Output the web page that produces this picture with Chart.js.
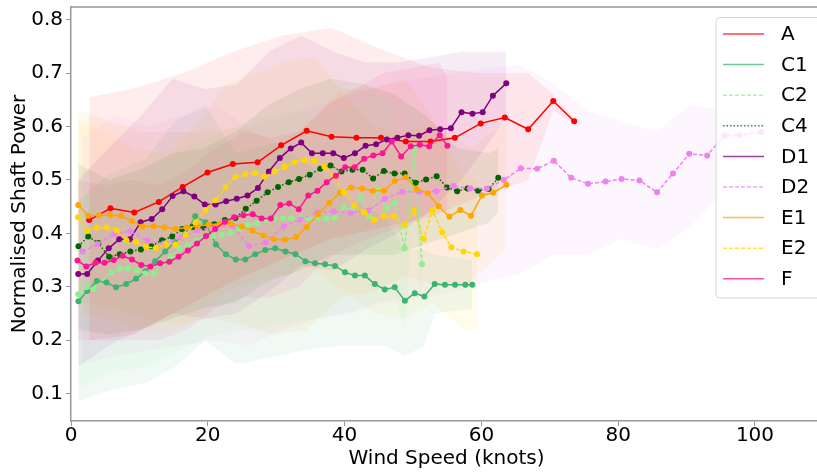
<!DOCTYPE html>
<html>
<head>
<meta charset="utf-8">
<script src="https://cdn.jsdelivr.net/npm/chart.js@4.4.1/dist/chart.umd.min.js"></script>
<style>
    html, body { margin: 0; padding: 0; background: #fff; overflow: hidden; }
    #wrap { width: 817px; height: 472px; overflow: hidden; }
</style>
</head>
<body>
<div id="wrap"><canvas id="powerChart" width="826" height="472"></canvas></div>
<script>
// Mean normalised shaft power per wind speed bin, one pair of arrays per vessel
const aWind = [2.66, 5.77, 9.26, 12.84, 16.33, 19.96, 23.66, 27.29, 30.72, 34.46, 38.09, 41.73, 45.32, 48.95, 52.59, 56.12, 59.90, 63.43, 66.84, 70.51, 73.57];
const aPower = [0.425, 0.447, 0.439, 0.459, 0.487, 0.514, 0.530, 0.533, 0.565, 0.592, 0.581, 0.579, 0.579, 0.572, 0.572, 0.579, 0.606, 0.617, 0.595, 0.648, 0.610];

const c1Wind = [1.09, 2.37, 3.78, 5.19, 6.59, 8.07, 9.50, 10.91, 12.31, 13.77, 15.22, 16.68, 18.17, 19.63, 21.18, 22.64, 24.09, 25.49, 26.94, 28.40, 29.85, 31.36, 32.82, 34.27, 35.69, 37.15, 38.60, 40.06, 41.51, 42.96, 44.42, 45.87, 47.33, 48.81, 50.26, 51.66, 53.17, 54.67, 56.15, 57.65, 58.67];
const c1Power = [0.273, 0.292, 0.311, 0.308, 0.299, 0.305, 0.315, 0.329, 0.348, 0.366, 0.384, 0.397, 0.432, 0.421, 0.379, 0.361, 0.351, 0.351, 0.361, 0.369, 0.372, 0.366, 0.361, 0.348, 0.344, 0.342, 0.339, 0.327, 0.321, 0.321, 0.305, 0.295, 0.299, 0.274, 0.288, 0.282, 0.305, 0.304, 0.304, 0.304, 0.304];

const c2Wind = [1.06, 2.28, 3.34, 5.92, 7.08, 8.33, 9.60, 10.90, 12.11, 13.42, 14.61, 15.85, 17.05, 18.32, 19.56, 20.79, 22.03, 23.26, 24.57, 25.88, 27.23, 28.50, 29.73, 30.97, 32.18, 33.54, 34.75, 36.06, 37.32, 38.53, 39.84, 41.07, 42.35, 43.62, 44.85, 46.13, 47.35, 48.78, 50.16, 51.32];
const c2Power = [0.286, 0.299, 0.296, 0.327, 0.334, 0.334, 0.331, 0.325, 0.325, 0.344, 0.357, 0.371, 0.378, 0.386, 0.393, 0.395, 0.397, 0.401, 0.408, 0.416, 0.419, 0.425, 0.427, 0.429, 0.429, 0.429, 0.429, 0.429, 0.428, 0.429, 0.449, 0.444, 0.468, 0.431, 0.483, 0.447, 0.457, 0.372, 0.558, 0.342];

const c4Wind = [1.09, 2.52, 4.00, 5.57, 7.12, 8.68, 10.22, 11.75, 13.30, 14.79, 16.24, 17.78, 19.38, 20.94, 22.49, 24.03, 25.55, 27.14, 28.74, 30.27, 31.84, 33.34, 34.89, 36.45, 37.95, 39.55, 41.15, 42.64, 44.17, 45.75, 47.30, 48.78, 50.38, 51.91, 53.46, 55.00, 56.46, 57.97, 59.51, 61.06, 62.47];
const c4Power = [0.376, 0.394, 0.382, 0.356, 0.361, 0.366, 0.370, 0.376, 0.387, 0.394, 0.408, 0.412, 0.411, 0.417, 0.425, 0.429, 0.446, 0.461, 0.477, 0.487, 0.496, 0.502, 0.510, 0.521, 0.527, 0.516, 0.519, 0.519, 0.503, 0.517, 0.512, 0.512, 0.495, 0.501, 0.507, 0.486, 0.479, 0.484, 0.480, 0.483, 0.504];

const d1Wind = [1.06, 2.37, 3.93, 5.52, 7.05, 8.62, 10.18, 11.81, 13.33, 14.86, 16.43, 18.03, 19.56, 21.13, 22.68, 24.24, 25.81, 27.33, 28.93, 30.53, 32.13, 33.66, 35.23, 36.81, 38.34, 39.88, 41.51, 43.07, 44.61, 46.19, 47.73, 49.33, 50.89, 52.41, 53.97, 55.54, 57.10, 58.70, 60.19, 61.68, 63.64];
const d1Power = [0.324, 0.324, 0.349, 0.372, 0.389, 0.389, 0.421, 0.427, 0.445, 0.470, 0.479, 0.469, 0.454, 0.454, 0.460, 0.465, 0.471, 0.485, 0.516, 0.541, 0.559, 0.570, 0.550, 0.550, 0.550, 0.541, 0.550, 0.564, 0.567, 0.576, 0.579, 0.584, 0.583, 0.593, 0.595, 0.597, 0.627, 0.624, 0.627, 0.658, 0.681];

const d2Wind = [1.67, 3.88, 6.32, 8.68, 11.20, 13.56, 16.07, 18.51, 21.08, 23.66, 26.02, 28.45, 31.11, 33.51, 35.96, 38.38, 40.93, 43.47, 45.87, 48.42, 50.93, 53.40, 55.93, 58.35, 60.82, 63.27, 65.76, 68.15, 70.59, 73.13, 75.60, 78.15, 80.50, 83.12, 85.68, 88.01, 90.39, 93.01, 95.57, 97.75, 100.95];
const d2Power = [0.366, 0.380, 0.399, 0.404, 0.386, 0.381, 0.392, 0.406, 0.412, 0.414, 0.376, 0.383, 0.413, 0.426, 0.439, 0.441, 0.438, 0.443, 0.465, 0.478, 0.478, 0.479, 0.489, 0.484, 0.484, 0.500, 0.522, 0.521, 0.536, 0.504, 0.493, 0.497, 0.502, 0.499, 0.477, 0.512, 0.549, 0.546, 0.583, 0.584, 0.590];

const e1Wind = [1.06, 2.52, 4.11, 5.71, 7.31, 8.87, 10.47, 12.07, 13.67, 15.22, 16.91, 18.51, 20.11, 21.77, 23.36, 24.96, 26.51, 28.10, 29.66, 31.29, 32.90, 34.46, 36.10, 37.76, 39.33, 40.96, 42.56, 44.13, 45.75, 47.35, 48.95, 50.52, 52.15, 53.75, 55.32, 56.92, 58.48, 60.08, 61.75, 63.65];
const e1Power = [0.453, 0.433, 0.434, 0.434, 0.433, 0.423, 0.413, 0.414, 0.411, 0.408, 0.411, 0.414, 0.416, 0.418, 0.418, 0.413, 0.405, 0.396, 0.389, 0.388, 0.393, 0.412, 0.436, 0.457, 0.476, 0.486, 0.484, 0.480, 0.480, 0.498, 0.505, 0.483, 0.475, 0.451, 0.431, 0.444, 0.433, 0.471, 0.476, 0.491];

const e2Wind = [1.02, 2.37, 3.81, 5.23, 6.64, 8.10, 9.52, 10.98, 12.41, 13.88, 15.27, 16.76, 18.22, 19.67, 21.13, 22.61, 24.02, 25.47, 26.90, 28.28, 29.76, 31.23, 32.71, 34.17, 35.62, 37.05, 38.43, 39.91, 41.36, 42.89, 44.30, 45.73, 47.18, 48.66, 50.12, 51.57, 52.85, 54.28, 55.61, 57.39, 59.36];
const e2Power = [0.430, 0.405, 0.411, 0.411, 0.406, 0.387, 0.384, 0.375, 0.372, 0.379, 0.379, 0.397, 0.421, 0.444, 0.462, 0.486, 0.505, 0.511, 0.513, 0.506, 0.516, 0.525, 0.533, 0.537, 0.536, 0.525, 0.506, 0.477, 0.452, 0.439, 0.425, 0.432, 0.432, 0.415, 0.442, 0.390, 0.443, 0.402, 0.374, 0.366, 0.361];

const fWind = [0.95, 2.22, 3.59, 4.91, 6.25, 7.53, 8.91, 10.28, 11.60, 13.04, 14.37, 15.73, 17.08, 18.42, 19.74, 21.08, 22.49, 23.84, 25.20, 26.56, 27.87, 29.22, 30.61, 31.91, 33.29, 34.68, 36.03, 37.39, 38.73, 40.09, 41.47, 42.86, 44.20, 45.55, 46.89, 48.27, 49.68, 51.00, 52.37, 53.90, 55.03];
const fPower = [0.349, 0.338, 0.345, 0.345, 0.350, 0.358, 0.351, 0.341, 0.338, 0.344, 0.347, 0.356, 0.368, 0.381, 0.395, 0.408, 0.422, 0.430, 0.434, 0.436, 0.428, 0.428, 0.453, 0.456, 0.445, 0.471, 0.480, 0.496, 0.508, 0.524, 0.524, 0.540, 0.546, 0.550, 0.572, 0.544, 0.563, 0.566, 0.563, 0.584, 0.564];

// Spread bands (lower / upper edge) read from the shaded areas
const aBandWind = [2.66, 9.26, 16.33, 23.66, 30.72, 38.09, 45.32, 52.59, 59.90, 66.84, 70.51, 73.57];
const aBandLow = [0.20, 0.21, 0.26, 0.31, 0.35, 0.39, 0.41, 0.43, 0.47, 0.50, 0.63, 0.605];
const aBandHigh = [0.655, 0.672, 0.70, 0.74, 0.77, 0.785, 0.745, 0.71, 0.70, 0.70, 0.66, 0.615];

const c1BandWind = [1.09, 5.19, 10.91, 15.22, 19.63, 24.09, 29.85, 35.69, 40.06, 45.87, 48.81, 51.66, 53.17, 58.67];
const c1BandLow = [0.085, 0.105, 0.12, 0.15, 0.20, 0.155, 0.17, 0.185, 0.19, 0.19, 0.17, 0.19, 0.25, 0.26];
const c1BandHigh = [0.46, 0.51, 0.54, 0.61, 0.64, 0.55, 0.57, 0.52, 0.47, 0.43, 0.37, 0.37, 0.36, 0.35];

const c2BandWind = [1.06, 5.92, 10.90, 15.85, 20.79, 25.88, 30.97, 36.06, 39.84, 44.85, 47.35, 48.78, 50.16, 51.32];
const c2BandLow = [0.11, 0.14, 0.15, 0.18, 0.21, 0.22, 0.23, 0.24, 0.25, 0.27, 0.28, 0.22, 0.45, 0.24];
const c2BandHigh = [0.46, 0.50, 0.50, 0.56, 0.58, 0.61, 0.63, 0.62, 0.64, 0.66, 0.63, 0.52, 0.67, 0.44];

const c4BandWind = [1.09, 5.57, 10.22, 14.79, 19.38, 24.03, 28.74, 33.34, 37.95, 42.64, 47.30, 51.91, 56.46, 61.06, 62.47];
const c4BandLow = [0.22, 0.21, 0.22, 0.24, 0.26, 0.27, 0.31, 0.33, 0.36, 0.36, 0.36, 0.38, 0.40, 0.42, 0.44];
const c4BandHigh = [0.53, 0.50, 0.52, 0.55, 0.56, 0.59, 0.64, 0.67, 0.69, 0.68, 0.66, 0.62, 0.56, 0.55, 0.56];

const d1BandWind = [1.06, 5.52, 10.18, 14.86, 19.56, 24.24, 28.93, 33.66, 38.34, 43.07, 47.73, 52.41, 57.10, 61.68, 63.64];
const d1BandLow = [0.15, 0.19, 0.22, 0.25, 0.24, 0.25, 0.29, 0.34, 0.33, 0.37, 0.40, 0.44, 0.50, 0.58, 0.62];
const d1BandHigh = [0.50, 0.56, 0.62, 0.69, 0.67, 0.68, 0.74, 0.77, 0.74, 0.72, 0.72, 0.73, 0.74, 0.74, 0.74];

const d2BandWind = [1.67, 6.32, 11.20, 16.07, 21.08, 26.02, 31.11, 35.96, 40.93, 45.87, 50.93, 55.93, 60.82, 65.76, 70.59, 75.60, 80.50, 85.68, 90.39, 95.57, 100.95];
const d2BandLow = [0.155, 0.17, 0.18, 0.19, 0.20, 0.19, 0.22, 0.24, 0.25, 0.27, 0.28, 0.29, 0.31, 0.325, 0.36, 0.36, 0.39, 0.37, 0.41, 0.48, 0.52];
const d2BandHigh = [0.58, 0.62, 0.60, 0.62, 0.64, 0.60, 0.62, 0.64, 0.66, 0.68, 0.69, 0.70, 0.71, 0.715, 0.68, 0.63, 0.61, 0.59, 0.64, 0.63, 0.66];

const e1BandWind = [1.06, 5.71, 10.47, 15.22, 20.11, 24.96, 29.66, 34.46, 39.33, 44.13, 48.95, 53.75, 58.48, 63.65];
const e1BandLow = [0.27, 0.26, 0.24, 0.23, 0.24, 0.23, 0.21, 0.22, 0.28, 0.29, 0.32, 0.30, 0.31, 0.37];
const e1BandHigh = [0.63, 0.61, 0.59, 0.59, 0.59, 0.60, 0.57, 0.60, 0.67, 0.67, 0.69, 0.60, 0.56, 0.61];

const e2BandWind = [1.02, 5.23, 9.52, 13.88, 18.22, 22.61, 26.90, 31.23, 35.62, 39.91, 44.30, 48.66, 52.85, 57.39, 59.36];
const e2BandLow = [0.25, 0.24, 0.22, 0.21, 0.24, 0.29, 0.31, 0.32, 0.33, 0.29, 0.25, 0.24, 0.27, 0.22, 0.22];
const e2BandHigh = [0.61, 0.59, 0.56, 0.55, 0.60, 0.68, 0.70, 0.72, 0.73, 0.66, 0.60, 0.59, 0.61, 0.51, 0.50];

const fBandWind = [0.95, 4.91, 8.91, 13.04, 17.08, 21.08, 25.20, 29.22, 33.29, 37.39, 41.47, 45.55, 49.68, 53.90, 55.03];
const fBandLow = [0.20, 0.20, 0.20, 0.20, 0.22, 0.26, 0.28, 0.28, 0.30, 0.35, 0.38, 0.40, 0.42, 0.45, 0.44];
const fBandHigh = [0.50, 0.49, 0.50, 0.49, 0.52, 0.56, 0.59, 0.58, 0.59, 0.64, 0.67, 0.70, 0.71, 0.72, 0.69];

const xTicks = [0, 20, 40, 60, 80, 100];
const yTicks = [0.1, 0.2, 0.3, 0.4, 0.5, 0.6, 0.7, 0.8];

// Series setup: name, colour, dash pattern, data arrays
const series = [
    { name: "A",  color: [255, 0, 0],     dash: [],       x: aWind,  y: aPower,  bx: aBandWind,  lo: aBandLow,  hi: aBandHigh },
    { name: "C1", color: [60, 179, 113],  dash: [],       x: c1Wind, y: c1Power, bx: c1BandWind, lo: c1BandLow, hi: c1BandHigh },
    { name: "C2", color: [144, 238, 144], dash: [4, 2],   x: c2Wind, y: c2Power, bx: c2BandWind, lo: c2BandLow, hi: c2BandHigh },
    { name: "C4", color: [0, 100, 0],     dash: [1.5, 2], x: c4Wind, y: c4Power, bx: c4BandWind, lo: c4BandLow, hi: c4BandHigh },
    { name: "D1", color: [128, 0, 128],   dash: [],       x: d1Wind, y: d1Power, bx: d1BandWind, lo: d1BandLow, hi: d1BandHigh },
    { name: "D2", color: [238, 130, 238], dash: [4, 2],   x: d2Wind, y: d2Power, bx: d2BandWind, lo: d2BandLow, hi: d2BandHigh },
    { name: "E1", color: [255, 165, 0],   dash: [],       x: e1Wind, y: e1Power, bx: e1BandWind, lo: e1BandLow, hi: e1BandHigh },
    { name: "E2", color: [255, 215, 0],   dash: [4, 2],   x: e2Wind, y: e2Power, bx: e2BandWind, lo: e2BandLow, hi: e2BandHigh },
    { name: "F",  color: [255, 20, 147],  dash: [],       x: fWind,  y: fPower,  bx: fBandWind,  lo: fBandLow,  hi: fBandHigh },
];

const rgba = (c, a) => `rgba(${c[0]}, ${c[1]}, ${c[2]}, ${a})`;
const toPoints = (xs, ys) => xs.map((x, i) => ({ x: x, y: ys[i] }));

const datasets = [];
// shaded bands first, underneath everything
series.forEach((s) => {
    datasets.push({
        label: s.name + " low",
        data: toPoints(s.bx, s.lo),
        borderColor: "rgba(0,0,0,0)",
        pointRadius: 0,
        fill: false,
        order: 100,
    });
    datasets.push({
        label: s.name + " high",
        data: toPoints(s.bx, s.hi),
        borderColor: "rgba(0,0,0,0)",
        backgroundColor: rgba(s.color, 0.075),
        pointRadius: 0,
        fill: "-1",
        order: 100,
    });
});
series.forEach((s, i) => {
    datasets.push({
        label: s.name,
        data: toPoints(s.x, s.y),
        borderColor: rgba(s.color, 1),
        backgroundColor: rgba(s.color, 1),
        borderDash: s.dash,
        borderWidth: 1.5,
        pointRadius: 3,
        pointBorderWidth: 0,
        pointBackgroundColor: rgba(s.color, 1),
        fill: false,
        order: 50 - i,
    });
});

// top spine + matplotlib style legend box
const framePlugin = {
    id: "frame",
    afterDraw(chart) {
        const ctx = chart.ctx;
        const area = chart.chartArea;
        ctx.save();
        ctx.strokeStyle = "#999";
        ctx.lineWidth = 1.5;
        ctx.beginPath();
        ctx.moveTo(area.left, area.top);
        ctx.lineTo(area.right, area.top);
        ctx.stroke();

        // legend
        const bx = 716, by = 17.5, bw = 130, bh = 280.5, r = 4;
        ctx.beginPath();
        ctx.moveTo(bx + r, by);
        ctx.lineTo(bx + bw, by);
        ctx.lineTo(bx + bw, by + bh);
        ctx.lineTo(bx + r, by + bh);
        ctx.arcTo(bx, by + bh, bx, by + bh - r, r);
        ctx.lineTo(bx, by + r);
        ctx.arcTo(bx, by, bx + r, by, r);
        ctx.closePath();
        ctx.fillStyle = "rgba(255,255,255,0.8)";
        ctx.fill();
        ctx.strokeStyle = "#d6d6d6";
        ctx.lineWidth = 1;
        ctx.stroke();

        ctx.font = "20px 'DejaVu Sans'";
        ctx.textBaseline = "middle";
        ctx.textAlign = "left";
        series.forEach((s, i) => {
            const y = 34 + i * 30.6;
            ctx.beginPath();
            ctx.setLineDash(s.dash);
            ctx.strokeStyle = rgba(s.color, 0.75);
            ctx.lineWidth = 1.5;
            ctx.moveTo(723, y);
            ctx.lineTo(764, y);
            ctx.stroke();
            ctx.setLineDash([]);
            ctx.fillStyle = "#000";
            ctx.fillText(s.name, 781, y + 1);
        });
        ctx.restore();
    },
};

const ctx = document.getElementById("powerChart").getContext("2d");
new Chart(ctx, {
    type: "line",
    data: { datasets: datasets },
    plugins: [framePlugin],
    options: {
        responsive: false,
        animation: false,
        layout: { padding: { top: 7, right: 0, left: 0, bottom: 0 } },
        elements: { line: { tension: 0 } },
        plugins: {
            legend: { display: false },
            tooltip: { enabled: false },
        },
        scales: {
            x: {
                type: "linear",
                min: 0,
                max: 109.8,
                afterFit: (s) => { s.height = 51; s.paddingLeft = 0; s.paddingRight = 0; },
                afterBuildTicks: (s) => { s.ticks = xTicks.map((v) => ({ value: v })); },
                grid: { drawOnChartArea: false, drawTicks: true, tickLength: 5, color: "#999" },
                border: { display: true, color: "#999", width: 1.5 },
                ticks: {
                    color: "#000",
                    padding: -2,
                    maxRotation: 0,
                    font: { family: "DejaVu Sans", size: 20 },
                    callback: (v) => String(v),
                },
                title: {
                    display: true,
                    text: "Wind Speed (knots)",
                    color: "#000",
                    padding: { top: 0, bottom: 1 },
                    font: { family: "DejaVu Sans", size: 20 },
                },
            },
            y: {
                min: 0.0486,
                max: 0.824,
                afterFit: (s) => { s.width = 71; s.paddingTop = 0; s.paddingBottom = 0; },
                afterBuildTicks: (s) => { s.ticks = yTicks.map((v) => ({ value: v })); },
                grid: { drawOnChartArea: false, drawTicks: true, tickLength: 5, color: "#999" },
                border: { display: true, color: "#999", width: 1.5 },
                ticks: {
                    color: "#000",
                    padding: 3,
                    font: { family: "DejaVu Sans", size: 20 },
                    callback: (v) => v.toFixed(1),
                },
                title: {
                    display: true,
                    text: "Normalised Shaft Power",
                    color: "#000",
                    padding: { top: 8, bottom: 0 },
                    font: { family: "DejaVu Sans", size: 20 },
                },
            },
        },
    },
});
</script>
</body>
</html>
